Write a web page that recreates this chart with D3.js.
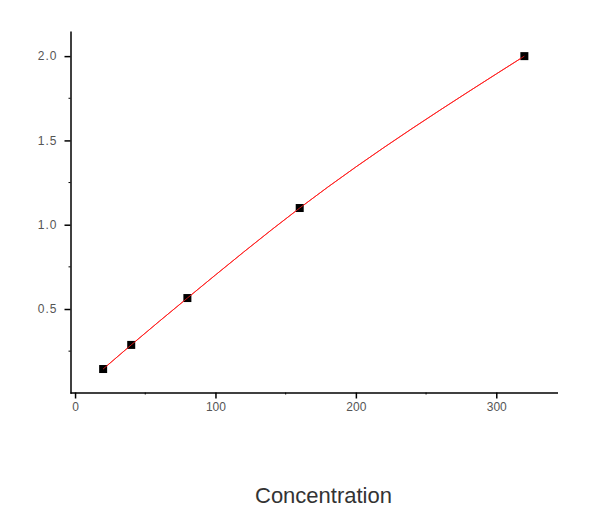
<!DOCTYPE html>
<html>
<head>
<meta charset="utf-8">
<script src="https://cdn.jsdelivr.net/npm/d3@7"></script>
<style>
  body { margin: 0; background: #fff; }
  text { font-family: "Liberation Sans", Arial, sans-serif; }
</style>
</head>
<body>
<svg id="grafico" width="600" height="521"></svg>
<script>
var concentracion = [20, 40, 80, 160, 320];
var densidad = [0.144, 0.287, 0.565, 1.099, 2.0];
var ticksX = [0, 100, 200, 300];
var ticksY = [0.5, 1.0, 1.5, 2.0];
var menoresX = [50, 150, 250];
var menoresY = [0.25, 0.75, 1.25, 1.75];

var puntos = concentracion.map(function (c, i) { return { x: c, y: densidad[i] }; });

var svg = d3.select("#grafico");

// escalas: eje izquierdo en x=70, eje inferior en y=392
var escalaX = d3.scaleLinear().domain([-3.6, 343.6]).range([70, 557.5]);
var escalaY = d3.scaleLinear().domain([0, 2.149]).range([393.3, 31]);

// eje X
var ejeX = svg.append("g").attr("transform", "translate(0,392.5)");
ejeX.call(d3.axisBottom(escalaX).tickValues(ticksX).tickSize(6).tickSizeOuter(0)
    .tickFormat(d3.format("d")));
menoresX.forEach(function (m) {
    ejeX.append("line").attr("x1", escalaX(m)).attr("x2", escalaX(m))
        .attr("y1", 0).attr("y2", 2).attr("stroke", "#000");
});

// eje Y
var ejeY = svg.append("g").attr("transform", "translate(70.5,0)");
ejeY.call(d3.axisLeft(escalaY).tickValues(ticksY).tickSize(6).tickSizeOuter(0)
    .tickFormat(d3.format(".1f")));
menoresY.forEach(function (m) {
    ejeY.append("line").attr("y1", escalaY(m)).attr("y2", escalaY(m))
        .attr("x1", 0).attr("x2", -2).attr("stroke", "#000");
});

// estilo de los ejes
svg.selectAll(".domain").attr("stroke", "#000").attr("stroke-width", 1.5);
svg.selectAll(".tick line").attr("stroke", "#000").attr("stroke-width", 1.5);
svg.selectAll(".tick text")
    .attr("fill", "#555")
    .style("font-size", "12px")
    .style("font-family", "'Liberation Sans', Arial, sans-serif");
ejeX.selectAll(".tick text").attr("dy", "0.9em").attr("y", 8);
ejeY.selectAll(".tick text").attr("x", -13).style("letter-spacing", "1px");

// curva ajustada
var linea = d3.line()
    .x(function (d) { return escalaX(d.x); })
    .y(function (d) { return escalaY(d.y); })
    .curve(d3.curveMonotoneX);

svg.append("path")
    .attr("d", linea(puntos))
    .attr("fill", "none")
    .attr("stroke", "#ff2020")
    .attr("stroke-width", 1);

// marcadores cuadrados
svg.selectAll(".punto")
    .data(puntos)
    .enter()
    .append("rect")
    .attr("class", "punto")
    .attr("x", function (d) { return escalaX(d.x) - 4; })
    .attr("y", function (d) { return escalaY(d.y) - 4; })
    .attr("width", 8)
    .attr("height", 8)
    .attr("fill", "#000");

// linea por encima de los puntos
svg.append("path")
    .attr("d", linea(puntos))
    .attr("fill", "none")
    .attr("stroke", "#ff2020")
    .attr("stroke-opacity", 0.8)
    .attr("stroke-width", 1);

// titulo del eje X
svg.append("text")
    .attr("x", 323.5)
    .attr("y", 503)
    .attr("text-anchor", "middle")
    .attr("fill", "#333")
    .style("font-size", "22px")
    .text("Concentration");
</script>
</body>
</html>
